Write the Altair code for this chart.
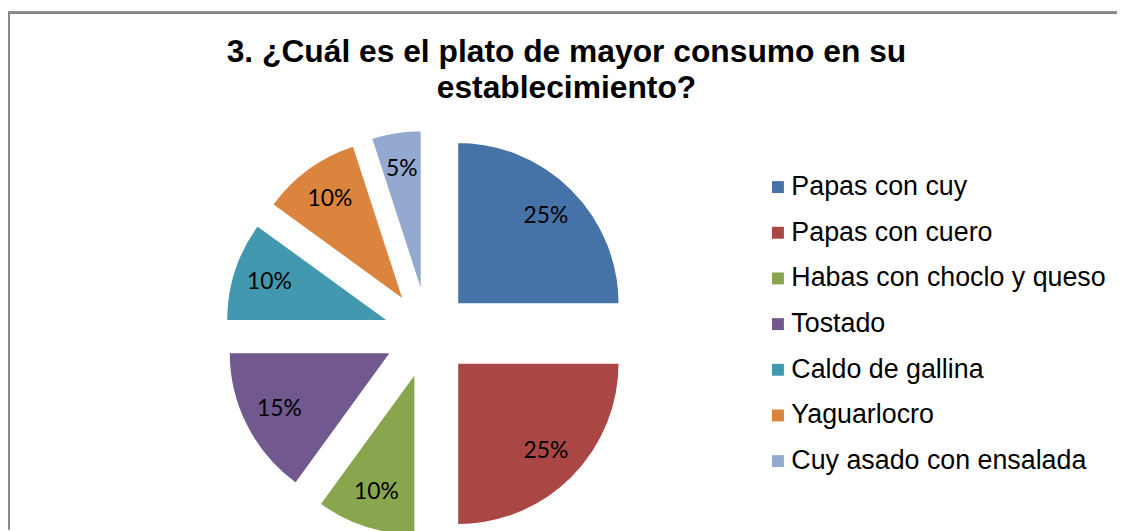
import altair as alt
import pandas as pd

categories = [
    "Papas con cuy",
    "Papas con cuero",
    "Habas con choclo y queso",
    "Tostado",
    "Caldo de gallina",
    "Yaguarlocro",
    "Cuy asado con ensalada",
]
values = [25, 25, 10, 15, 10, 10, 5]
colors = ["#4572A7", "#AA4643", "#89A54E", "#71588F", "#4198AF", "#DB843D", "#93A9CF"]
title_lines = ["3. ¿Cuál es el plato de mayor consumo en su", "establecimiento?"]

df = pd.DataFrame({"plato": categories, "valor": values, "orden": list(range(len(categories)))})

W, H = 1117, 523
CX, CY = 423, 326
EXPLODE = 42
RADIUS = 163
LABEL_R = 168

base = (
    alt.Chart(df)
    .transform_joinaggregate(total="sum(valor)")
    .transform_window(cum="sum(valor)", sort=[alt.SortField("orden")], frame=[None, 0])
    .transform_calculate(t0="(datum.cum - datum.valor) / datum.total * 2 * PI")
    .transform_calculate(t1="datum.cum / datum.total * 2 * PI")
    .transform_calculate(mid="(datum.t0 + datum.t1) / 2")
    .transform_calculate(px=f"{CX} + {EXPLODE} * sin(datum.mid)")
    .transform_calculate(py=f"{CY} - {EXPLODE} * cos(datum.mid)")
    .transform_calculate(lx=f"{CX} + {LABEL_R} * sin(datum.mid)")
    .transform_calculate(ly=f"{CY} - {LABEL_R} * cos(datum.mid)")
    .transform_calculate(etiqueta="datum.valor + '%'")
)

arcs = base.mark_arc(radius=RADIUS, stroke="white", strokeWidth=1.5).encode(
    x=alt.X("px:Q", scale=None, axis=None),
    y=alt.Y("py:Q", scale=None, axis=None),
    theta=alt.Theta("t0:Q", scale=None, stack=None),
    theta2=alt.Theta2("t1:Q"),
    color=alt.Color(
        "plato:N",
        scale=alt.Scale(domain=categories, range=colors),
        sort=categories,
        legend=alt.Legend(
            title=None,
            orient="none",
            legendX=762,
            legendY=165,
            symbolType="square",
            symbolSize=144,
            symbolStrokeWidth=0,
            labelFont="Liberation Sans",
            labelFontSize=27,
            labelColor="black",
            rowPadding=18,
            labelOffset=0,
            labelLimit=500,
        ),
    ),
    order=alt.Order("orden:Q"),
)

labels = base.mark_text(font="Lato", fontSize=23, color="black", align="center", baseline="middle").encode(
    x=alt.X("lx:Q", scale=None, axis=None),
    y=alt.Y("ly:Q", scale=None, axis=None),
    text="etiqueta:N",
)

border_top = alt.Chart(df).mark_rule(color="#898989", strokeWidth=2).encode(
    x=alt.value(0), x2=alt.value(W), y=alt.value(3)
)
border_left = alt.Chart(df).mark_rule(color="#898989", strokeWidth=2).encode(
    x=alt.value(1), y=alt.value(2), y2=alt.value(H)
)

chart = (
    alt.layer(border_top, border_left, arcs, labels)
    .properties(
        width=W,
        height=H,
        autosize=alt.AutoSizeParams(type="none"),
        padding=0,
        title=alt.TitleParams(
            title_lines,
            font="Liberation Sans",
            fontSize=32,
            fontWeight="bold",
            color="black",
            anchor="middle",
            lineHeight=37,
            offset=-96,
            dx=4,
        ),
    )
    .configure_view(stroke=None)
)

chart.save("out.html", embed_options={"renderer": "svg", "actions": False})
